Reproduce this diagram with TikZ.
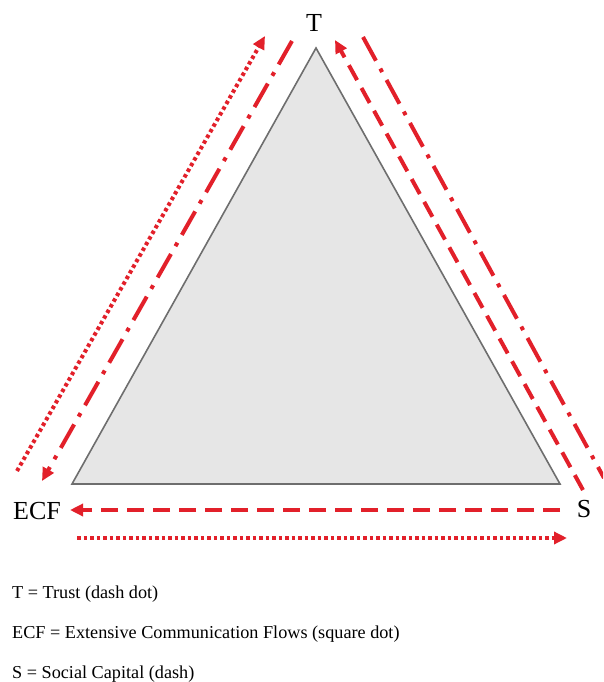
\documentclass[tikz,border=0pt]{standalone}
\usepackage{fontspec}
\setmainfont{Liberation Serif}
\usetikzlibrary{arrows.meta}
\definecolor{flowred}{RGB}{226,32,42}
\definecolor{sidegray}{RGB}{110,110,110}
\definecolor{fillgray}{RGB}{230,230,230}
\begin{document}
\begin{tikzpicture}[x=1pt,y=-1pt,>={Triangle[length=13pt,width=12pt]},
  flow/.style={draw=flowred,line width=4pt},
  trustline/.style={flow,dash pattern=on 27pt off 9pt on 4pt off 9pt},
  ecfline/.style={flow,dash pattern=on 3.5pt off 3pt},
  scline/.style={flow,dash pattern=on 17pt off 9pt},
  corner/.style={font=\fontsize{26}{30}\selectfont,inner sep=0pt},
  legend/.style={font=\fontsize{18.2}{22}\selectfont,anchor=west,inner sep=0pt}]
  \clip (0,0) rectangle (603,682);
  % triangle
  \coordinate (top) at (316,48);
  \coordinate (left) at (72,484);
  \coordinate (right) at (560,484);
  \draw[draw=sidegray,fill=fillgray,line width=1.6pt,line join=miter] (top) -- (left) -- (right) -- cycle;
  \node[corner] (T) at (314,23) {T};
  \node[corner] (ECF) at (37,511) {ECF};
  \node[corner] (S) at (584,509) {S};
  % flow ends
  \coordinate (a1) at (17,471);  \coordinate (a2) at (265,36);
  \coordinate (b1) at (292,41);  \coordinate (b2) at (42,481);
  \coordinate (c1) at (583,490); \coordinate (c2) at (335,40);
  \coordinate (d1) at (363,37);  \coordinate (d2) at (604,478);
  \coordinate (e1) at (560,510); \coordinate (e2) at (70,510);
  \coordinate (f1) at (77,538);  \coordinate (f2) at (567,538);
  \draw[ecfline,->] (a1) -- (a2);
  \draw[trustline,->] (b1) -- (b2);
  \draw[scline,->] (c1) -- (c2);
  \draw[trustline] (d1) -- (d2);
  \draw[scline,->] (e1) -- (e2);
  \draw[ecfline,->] (f1) -- (f2);
  % legend
  \node[legend] (lt) at (12,594) {T = Trust (dash dot)};
  \node[legend] (lecf) at (12,634) {ECF = Extensive Communication Flows (square dot)};
  \node[legend] (ls) at (12,674) {S = Social Capital (dash)};
\end{tikzpicture}
\end{document}
